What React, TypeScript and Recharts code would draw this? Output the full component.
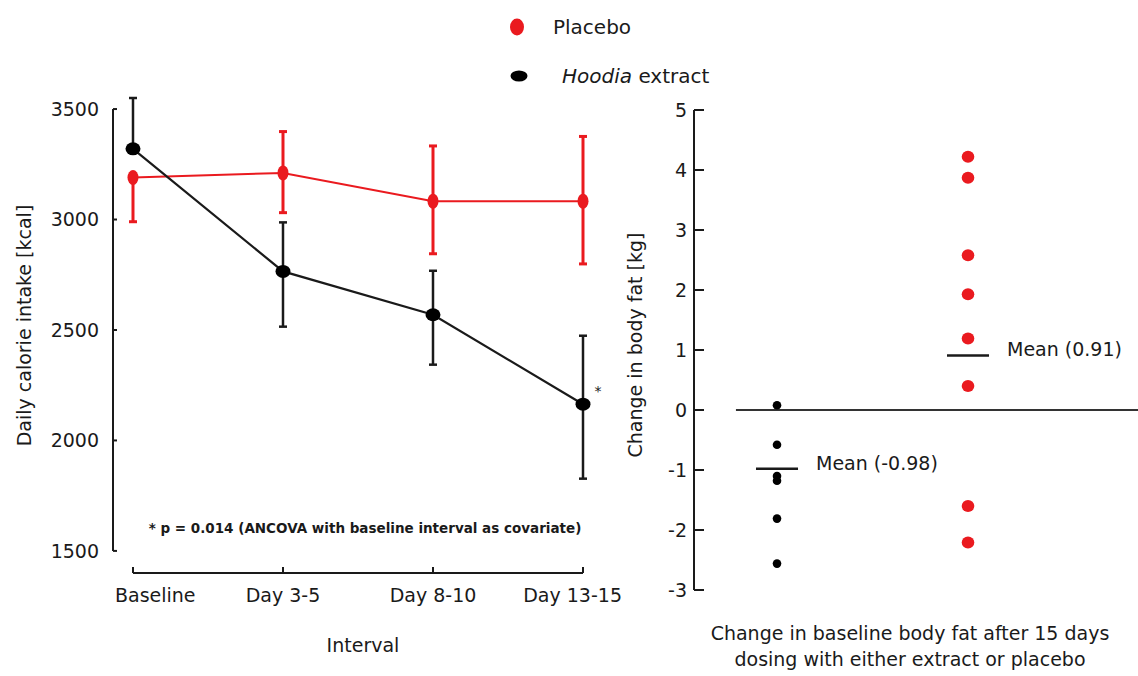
import React from "react";
import {
  ErrorBar,
  LabelList,
  Line,
  LineChart,
  ReferenceLine,
  Scatter,
  ScatterChart,
  XAxis,
  YAxis,
} from "recharts";

const FONT = "'DejaVu Sans', Verdana, sans-serif";
const RED = "#ea1a1f";
const INK = "#1a1a1a";

// Left panel: daily calorie intake per interval
const intervals = ["Baseline", "Day 3-5", "Day 8-10", "Day 13-15"];
const placeboKcal = [3190, 3211, 3083, 3083];
const placeboKcalErr = [[200, 0], [180, 187], [238, 250], [284, 293]];
const hoodiaKcal = [3320, 2765, 2569, 2164];
const hoodiaKcalErr = [[0, 230], [250, 222], [226, 199], [337, 310]];
const kcalTicks = [1500, 2000, 2500, 3000, 3500];

// Right panel: change in body fat per subject
const hoodiaFatChange = [0.08, -0.58, -1.1, -1.18, -1.81, -2.56];
const placeboFatChange = [4.22, 3.87, 2.58, 1.93, 1.19, 0.4, -1.6, -2.21];
const hoodiaFatMean = -0.98;
const placeboFatMean = 0.91;
const fatTicks = [-3, -2, -1, 0, 1, 2, 3, 4, 5];

// x positions of the two groups on the right panel
const HOODIA_X = 1;
const PLACEBO_X = 2;
const LEFT_X_MIN = -0.1333; // y axis sits a little left of "Baseline"

const intakeData = intervals.map((name, i) => ({
  x: i,
  name,
  placebo: placeboKcal[i],
  placeboErr: placeboKcalErr[i],
  hoodia: hoodiaKcal[i],
  hoodiaErr: hoodiaKcalErr[i],
}));

const hoodiaPoints = hoodiaFatChange.map((y) => ({ x: HOODIA_X, y }));
const placeboPoints = placeboFatChange.map((y) => ({ x: PLACEBO_X, y }));

const textStyle = { fill: INK, fontFamily: FONT, fontSize: 19 };

function IntervalTick(props: any) {
  const { x, y, index, payload } = props;
  const last = intervals.length - 1;
  const anchor = index === 0 ? "start" : index === last ? "end" : "middle";
  const tx = index === 0 ? x - 18 : index === last ? x + 39 : x;
  return (
    <g>
      <line x1={x} x2={x} y1={y} y2={y - 6} stroke={INK} strokeWidth={2} />
      <text x={tx} y={y + 29} textAnchor={anchor} {...textStyle}>
        {intervals[payload.value]}
      </text>
    </g>
  );
}

function KcalTick(props: any) {
  const { x, y, payload } = props;
  return (
    <g>
      <line x1={x} x2={x + 4} y1={y} y2={y} stroke={INK} strokeWidth={2} />
      <text x={x - 14} y={y} dy="0.36em" textAnchor="end" {...textStyle}>
        {payload.value}
      </text>
    </g>
  );
}

function FatTick(props: any) {
  const { x, y, payload } = props;
  return (
    <g>
      <line x1={x} x2={x + 10} y1={y} y2={y} stroke={INK} strokeWidth={2} />
      <text x={x - 7} y={y} dy="0.36em" textAnchor="end" {...textStyle}>
        {payload.value}
      </text>
    </g>
  );
}

function verticalTitle(bx: number, cy: number, value: string) {
  return (
    <text
      x={bx}
      y={cy}
      textAnchor="middle"
      transform={`rotate(-90 ${bx} ${cy})`}
      {...textStyle}
    >
      {value}
    </text>
  );
}

function IntakeChart() {
  const last = intervals.length - 1;
  return (
    <LineChart
      width={640}
      height={676}
      data={intakeData}
      margin={{ top: 98, right: 57, bottom: 13, left: 33 }}
    >
      <XAxis
        dataKey="x"
        type="number"
        domain={[LEFT_X_MIN, 3]}
        ticks={[0, 1, 2, 3]}
        interval={0}
        axisLine={false}
        tickLine={false}
        tickSize={0}
        tickMargin={0}
        height={90}
        tick={(p: any) => <IntervalTick {...p} />}
        label={{
          content: (p: any) => (
            <text
              x={p.viewBox.x + p.viewBox.width / 2 + 15}
              y={p.viewBox.y + 72}
              dy="0.36em"
              textAnchor="middle"
              {...textStyle}
            >
              Interval
            </text>
          ),
        }}
      />
      <YAxis
        type="number"
        domain={[1400, 3550]}
        ticks={kcalTicks}
        interval={0}
        axisLine={false}
        tickLine={false}
        tickSize={0}
        tickMargin={0}
        width={80}
        tick={(p: any) => <KcalTick {...p} />}
        label={{
          content: (p: any) =>
            verticalTitle(p.viewBox.x - 2, p.viewBox.y + p.viewBox.height / 2 - 10, "Daily calorie intake [kcal]"),
        }}
      />
      <ReferenceLine
        segment={[{ x: LEFT_X_MIN, y: 1500 }, { x: LEFT_X_MIN, y: 3500 }]}
        stroke={INK}
        strokeWidth={2}
        ifOverflow="visible"
      />
      <ReferenceLine
        segment={[{ x: 0, y: 1400 }, { x: 3, y: 1400 }]}
        stroke={INK}
        strokeWidth={2}
        ifOverflow="visible"
      />
      <Line
        dataKey="placebo"
        stroke={RED}
        strokeWidth={2}
        isAnimationActive={false}
        dot={(p: any) => (
          <ellipse key={`p${p.index}`} cx={p.cx} cy={p.cy} rx={5.5} ry={7.5} fill={RED} />
        )}
      >
        <ErrorBar dataKey="placeboErr" stroke={RED} strokeWidth={3} width={4} isAnimationActive={false} />
      </Line>
      <Line
        dataKey="hoodia"
        stroke={INK}
        strokeWidth={2.2}
        isAnimationActive={false}
        dot={(p: any) => (
          <ellipse key={`h${p.index}`} cx={p.cx} cy={p.cy} rx={7.5} ry={6.5} fill="#000" />
        )}
      >
        <ErrorBar dataKey="hoodiaErr" stroke={INK} strokeWidth={2.5} width={4} isAnimationActive={false} />
        <LabelList
          dataKey="hoodia"
          content={(p: any) =>
            p.index === last ? (
              <text x={p.x + 15} y={p.y - 8} textAnchor="middle" fill={INK} fontFamily={FONT} fontSize={14}>
                *
              </text>
            ) : null
          }
        />
      </Line>
    </LineChart>
  );
}

function meanLabel(value: string) {
  return {
    content: (p: any) => (
      <text
        x={p.viewBox.x + p.viewBox.width + 18}
        y={p.viewBox.y - 6}
        dy="0.36em"
        textAnchor="start"
        {...textStyle}
      >
        {value}
      </text>
    ),
  };
}

function BodyFatChart() {
  return (
    <ScatterChart
      width={538}
      height={676}
      margin={{ top: 110, right: 0, bottom: 86, left: 34 }}
    >
      <XAxis type="number" dataKey="x" domain={[0.5654, 2.89]} hide allowDataOverflow />
      <YAxis
        type="number"
        dataKey="y"
        domain={[-3, 5]}
        ticks={fatTicks}
        interval={0}
        width={60}
        axisLine={{ stroke: INK, strokeWidth: 2 }}
        tickLine={false}
        tickSize={0}
        tickMargin={0}
        tick={(p: any) => <FatTick {...p} />}
        label={{
          content: (p: any) =>
            verticalTitle(p.viewBox.x + 8, p.viewBox.y + p.viewBox.height / 2 - 5, "Change in body fat [kg]"),
        }}
      />
      <ReferenceLine
        segment={[{ x: 0.785, y: 0 }, { x: 2.89, y: 0 }]}
        stroke="#333"
        strokeWidth={2}
        ifOverflow="visible"
      />
      <ReferenceLine
        segment={[{ x: HOODIA_X - 0.11, y: hoodiaFatMean }, { x: HOODIA_X + 0.11, y: hoodiaFatMean }]}
        stroke={INK}
        strokeWidth={2.5}
        ifOverflow="visible"
        label={meanLabel(`Mean (${hoodiaFatMean})`)}
      />
      <ReferenceLine
        segment={[{ x: PLACEBO_X - 0.11, y: placeboFatMean }, { x: PLACEBO_X + 0.11, y: placeboFatMean }]}
        stroke={INK}
        strokeWidth={2.5}
        ifOverflow="visible"
        label={meanLabel(`Mean (${placeboFatMean})`)}
      />
      <Scatter
        data={hoodiaPoints}
        fill="#000"
        isAnimationActive={false}
        shape={(p: any) => <circle cx={p.cx} cy={p.cy} r={4.3} fill="#000" />}
      />
      <Scatter
        data={placeboPoints}
        fill={RED}
        isAnimationActive={false}
        shape={(p: any) => <ellipse cx={p.cx} cy={p.cy} rx={6.3} ry={6} fill={RED} />}
      />
    </ScatterChart>
  );
}

function LegendRow({ top, left, dot, children }: any) {
  return (
    <div style={{ position: "absolute", top: top - 12, left, height: 24, display: "flex", alignItems: "center" }}>
      {dot}
      {children}
    </div>
  );
}

export default function App() {
  return (
    <div
      style={{
        position: "absolute",
        left: 0,
        top: 0,
        width: 1138,
        height: 676,
        background: "#fff",
        fontFamily: FONT,
        color: INK,
        overflow: "hidden",
      }}
    >
      <div style={{ position: "absolute", left: 0, top: 0 }}>
        <IntakeChart />
      </div>
      <div style={{ position: "absolute", left: 600, top: 0 }}>
        <BodyFatChart />
      </div>

      <LegendRow
        top={27}
        left={508}
        dot={
          <svg width={20} height={20} style={{ marginRight: 25 }}>
            <ellipse cx={9} cy={10} rx={7} ry={8.5} fill={RED} />
          </svg>
        }
      >
        <span style={{ fontSize: 20 }}>Placebo</span>
      </LegendRow>
      <LegendRow
        top={76}
        left={509}
        dot={
          <svg width={20} height={20} style={{ marginRight: 33 }}>
            <ellipse cx={10} cy={10} rx={8.5} ry={5.5} fill="#000" />
          </svg>
        }
      >
        <span style={{ fontSize: 20 }}>
          <i>Hoodia</i> extract
        </span>
      </LegendRow>

      <div
        style={{
          position: "absolute",
          left: 130,
          width: 470,
          top: 518,
          textAlign: "center",
          fontSize: 13.5,
          fontWeight: "bold",
          lineHeight: "20px",
        }}
      >
        * p = 0.014 (ANCOVA with baseline interval as covariate)
      </div>

      <div
        style={{
          position: "absolute",
          left: 680,
          width: 460,
          top: 620,
          textAlign: "center",
          fontSize: 19,
          lineHeight: "26px",
        }}
      >
        Change in baseline body fat after 15 days
        <br />
        dosing with either extract or placebo
      </div>
    </div>
  );
}
